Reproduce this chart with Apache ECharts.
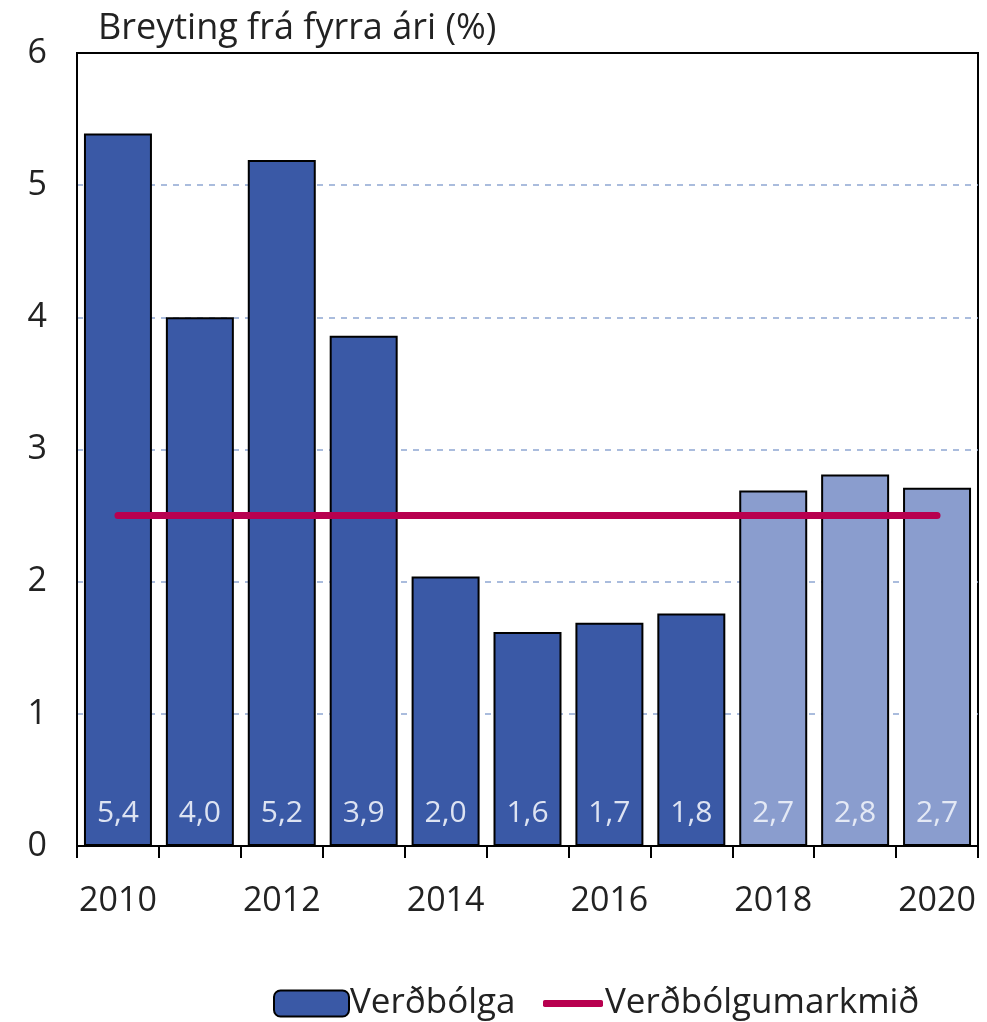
<!DOCTYPE html>
<html><head><meta charset="utf-8">
<script src="https://cdn.jsdelivr.net/npm/echarts@6/dist/echarts.min.js"></script>
<style>html,body{margin:0;padding:0;background:#fff}#c{width:987px;height:1022px}</style>
</head><body><div id="c"></div>
<script>
const years = ['2010','2011','2012','2013','2014','2015','2016','2017','2018','2019','2020'];
const inflation = [5.39, 4.0, 5.19, 3.86, 2.04, 1.62, 1.69, 1.76, 2.69, 2.81, 2.71];
const forecastFrom = 8; // index of first light (forecast) bar
const target = [2.5, 2.5, 2.5, 2.5, 2.5, 2.5, 2.5, 2.5, 2.5, 2.5, 2.5];
const yTicks = [0, 1, 2, 3, 4, 5, 6];

const FONT = '"Open Sans", "Noto Sans", sans-serif';
const dark = '#3A59A6', light = '#8A9DCE', red = '#B8004F';

const chart = echarts.init(document.getElementById('c'));
chart.setOption({
  animation: false,
  textStyle: { fontFamily: FONT },
  title: { text: 'Breyting frá fyrra ári (%)', left: 93, top: 6,
    textStyle: { fontFamily: FONT, fontSize: 36, fontWeight: 'normal', color: '#222' } },
  grid: { left: 77, right: 9, top: 53, bottom: 176, show: true, borderColor: '#000', borderWidth: 2, containLabel: false },
  xAxis: {
    type: 'category', data: years, boundaryGap: true,
    axisLine: { lineStyle: { color: '#000', width: 2 } },
    axisTick: { show: true, interval: 0, length: 12, lineStyle: { color: '#000', width: 2 } },
    axisLabel: { interval: 1, fontSize: 34, color: '#222', margin: 38, fontFamily: FONT }
  },
  yAxis: {
    type: 'value', min: yTicks[0], max: yTicks[yTicks.length - 1], interval: 1,
    axisLine: { show: true, lineStyle: { color: '#000', width: 2 } },
    axisTick: { show: false },
    axisLabel: { fontSize: 34, color: '#222', margin: 30, fontFamily: FONT },
    splitLine: { show: true, showMinLine: false, showMaxLine: false,
      lineStyle: { color: '#8EA6D2', type: [6, 6], width: 1.5 } }
  },
  legend: [
    { data: [{ name: 'Verðbólga', itemStyle: { color: dark, borderColor: '#000', borderWidth: 2 } }],
      left: 268, top: 981, itemWidth: 75, itemHeight: 26, itemGap: 4,
      textStyle: { fontSize: 35, color: '#222', fontFamily: FONT, padding: [0, 0, 0, -4] } },
    { data: [{ name: 'Verðbólgumarkmið', icon: 'roundRect', itemStyle: { color: red } }],
      left: 538, top: 981, itemWidth: 60, itemHeight: 7,
      textStyle: { fontSize: 35, color: '#222', fontFamily: FONT, padding: [0, 0, 0, -3] } }
  ],
  series: [
    {
      name: 'Verðbólga', type: 'bar', barCategoryGap: '17%',
      data: inflation.map((v, i) => ({ value: v, itemStyle: { color: i >= forecastFrom ? light : dark },
        label: { color: i >= forecastFrom ? '#E4E9F5' : '#DDE3F2' } })),
      itemStyle: { color: dark, borderColor: '#000', borderWidth: 2 },
      label: { show: true, position: 'insideBottom', distance: 18, fontSize: 30, fontFamily: FONT,
        formatter: p => p.value.toFixed(1).replace('.', ',') },
      z: 2
    },
    {
      name: 'Verðbólgumarkmið', type: 'line', data: target, symbol: 'none', showSymbol: false,
      lineStyle: { color: red, width: 7, cap: 'round' }, itemStyle: { color: red }, z: 3
    }
  ]
});
</script></body></html>
